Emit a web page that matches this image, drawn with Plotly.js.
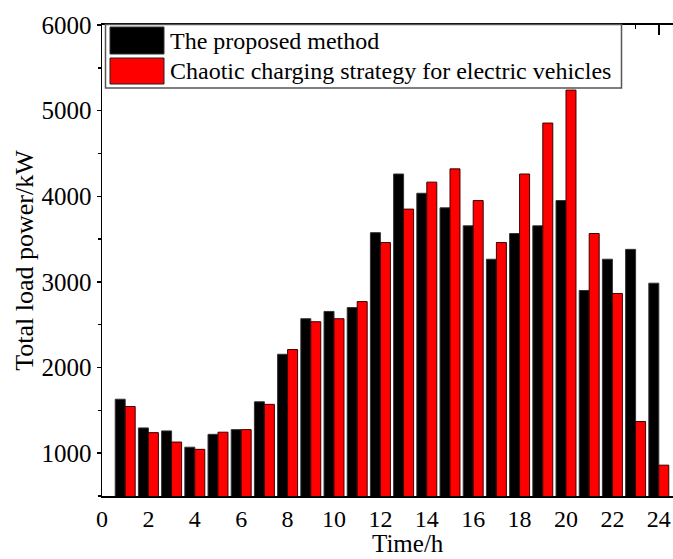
<!DOCTYPE html>
<html>
<head>
<meta charset="utf-8">
<script src="https://cdn.plot.ly/plotly-3.0.1.min.js"></script>
<style>html,body{margin:0;padding:0;background:#fff;}</style>
</head>
<body>
<div id="chart" style="width:673px;height:559px;"></div>
<script>
const hours = [1,2,3,4,5,6,7,8,9,10,11,12,13,14,15,16,17,18,19,20,21,22,23,24];
const proposed = [1630,1295,1260,1070,1220,1275,1600,2155,2570,2655,2700,3575,4260,4035,3865,3655,3265,3565,3655,3950,2900,3265,3380,2985];
const chaotic = [1545,1240,1130,1045,1245,1275,1570,2210,2535,2570,2770,3460,3850,4165,4320,3950,3460,4260,4855,5240,3565,2865,1370,860];
const seriesNames = ["The proposed method", "Chaotic charging strategy for electric vehicles"];
const xTicks = [0,2,4,6,8,10,12,14,16,18,20,22,24];
const yTicks = [1000,2000,3000,4000,5000,6000];

const FONT = "Liberation Serif";
const L = 102, T = 25, W = 571, H = 471;
const px = v => (v - L) / W;
const py = v => (T + H - v) / H;

const traces = [
  {type:"bar", x:hours, y:proposed, name:seriesNames[0], showlegend:false,
   marker:{color:"#000000", line:{color:"#333333", width:1}}},
  {type:"bar", x:hours, y:chaotic, name:seriesNames[1], showlegend:false,
   marker:{color:"#ff0000", line:{color:"#3a0000", width:1}}}
];

const layout = {
  width:673, height:559,
  margin:{l:L, r:0, t:T, b:559-T-H},
  paper_bgcolor:"#fff", plot_bgcolor:"#fff",
  barmode:"group", bargap:0.14, bargroupgap:0,
  font:{family:FONT, color:"#000", size:24},
  xaxis:{range:[0, W/23.2], tickvals:xTicks, ticktext:xTicks.map(String),
    ticks:"inside", ticklen:10, tickwidth:1.5, tickcolor:"#000",
    minor:{dtick:1, tick0:0, ticks:"inside", ticklen:4, tickwidth:1.5, tickcolor:"#000"},
    showline:true, linecolor:"#000", linewidth:2, mirror:"ticks",
    layer:"below traces", showgrid:false, zeroline:false,
    tickfont:{family:FONT, size:24, color:"#000"}},
  yaxis:{range:[500,6000], tickvals:yTicks, ticktext:yTicks.map(String),
    ticks:"outside", ticklen:4, tickwidth:1.5, tickcolor:"#000",
    minor:{dtick:500, tick0:0, ticks:"outside", ticklen:3, tickwidth:1.5, tickcolor:"#000"},
    showline:true, linecolor:"#000", linewidth:1.5, mirror:false,
    showgrid:false, zeroline:false,
    title:{text:"Total load power/kW", font:{family:FONT, size:26, color:"#000"}, standoff:0},
    tickfont:{family:FONT, size:25, color:"#000"}},
  shapes:[
    {type:"rect", xref:"paper", yref:"paper", x0:px(105.5), x1:px(621.5), y0:py(88), y1:py(24.5),
     fillcolor:"#fff", line:{color:"#555", width:1.5}, layer:"above"},
    {type:"rect", xref:"paper", yref:"paper", x0:px(110), x1:px(164), y0:py(54), y1:py(27),
     fillcolor:"#000", line:{color:"#333", width:1}, layer:"above"},
    {type:"rect", xref:"paper", yref:"paper", x0:px(110), x1:px(164), y0:py(84), y1:py(58),
     fillcolor:"#ff0000", line:{color:"#222", width:1}, layer:"above"}
  ],
  annotations:[
    {xref:"paper", yref:"paper", x:px(168), y:py(41), xanchor:"left", yanchor:"middle",
     text:seriesNames[0], showarrow:false, font:{family:FONT, size:24, color:"#000"}},
    {xref:"paper", yref:"paper", x:px(168), y:py(71), xanchor:"left", yanchor:"middle",
     text:seriesNames[1], showarrow:false, font:{family:FONT, size:24, color:"#000"}},
    {xref:"paper", yref:"paper", x:px(408), y:py(543), xanchor:"center", yanchor:"middle",
     text:"Time/h", showarrow:false, font:{family:FONT, size:25, color:"#000"}}
  ]
};

Plotly.newPlot("chart", traces, layout, {displayModeBar:false, staticPlot:true});
</script>
</body>
</html>
